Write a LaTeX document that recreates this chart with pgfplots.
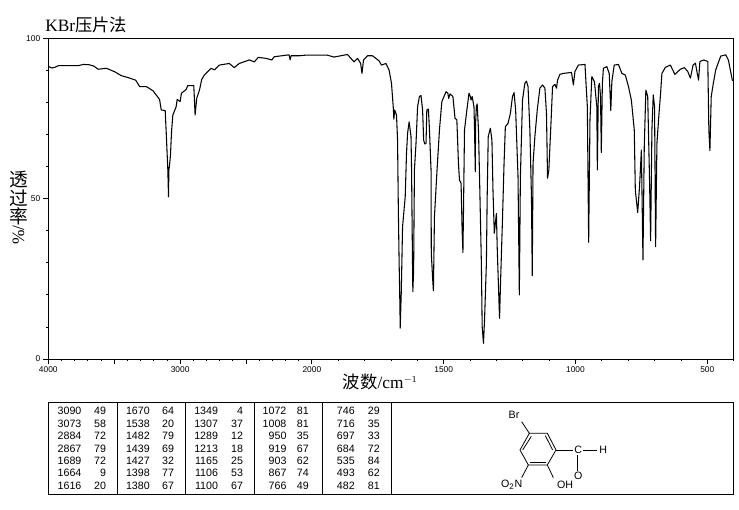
\documentclass[border=0pt]{standalone}
\usepackage{pgfplots}
\pgfplotsset{compat=1.18}
\usepackage{fontspec}
\setmainfont{Liberation Sans}
\newfontfamily\cjk{Noto Sans CJK SC}
\newfontfamily\lser{Liberation Serif}
\newcommand{\fs}[1]{\fontsize{#1}{#1}\selectfont}
\begin{document}
\begin{tikzpicture}[x=0.75pt,y=-0.75pt]
\useasboundingbox (0,0) rectangle (739,510);
\begin{axis}[
  at={(36.225pt,-269.25pt)},anchor=south west,scale only axis,
  width=514pt,height=240.4pt,
  x coord trafo/.code={\pgfmathparse{#1>=2000 ? (4000-#1)*0.5 : 1000+(2000-#1)}},
  xmin=4000,xmax=400,ymin=0,ymax=100,
  axis line style={line width=0.75pt},
  xtick pos=bottom,ytick pos=left,tick align=outside,
  xtick={4000,3500,3000,2500,2000,1500,1000,500},
  xticklabels={4000,,3000,,2000,1500,1000,500},
  minor xtick={3900,3800,3700,3600,3400,3300,3200,3100,2900,2800,2700,2600,2400,2300,2200,2100,1900,1800,1700,1600,1400,1300,1200,1100,900,800,700,600,400},
  ytick={0,50,100},yticklabels={0,50,100},
  minor ytick={10,20,30,40,60,70,80,90},
  major tick length=3.75pt,minor tick length=1.5pt,
  every tick/.style={black,line width=0.6pt},
  xticklabel style={font=\fs{6.3},yshift=1.2pt},yticklabel style={font=\fs{6.3},xshift=1.2pt},
  clip=false,
]
\addplot[black,line width=0.8pt,line join=round] coordinates {
(3995,91.2)(3975,90.8)(3950,91.0)(3924,91.5)(3773,91.5)(3735,91.9)(3690,91.8)(3655,91.4)(3622,90.4)(3559,90.7)
(3496,89.6)(3446,88.4)(3395,87.8)(3337,87.0)(3307,85.0)(3257,85.0)(3206,83.7)(3156,81.0)(3143,77.7)(3113,77.5)
(3105,70.4)(3093,59.0)(3088,50.6)(3085,59.0)(3080,60.5)(3073,63.6)(3065,70.9)(3055,76.1)(3030,78.7)(3022,81.0)
(3000,80.3)(2990,82.9)(2954,84.1)(2942,85.3)(2896,85.3)(2886,76.1)(2874,81.3)(2853,83.9)(2836,87.2)(2816,88.6)
(2765,90.7)(2740,90.2)(2702,91.7)(2627,92.2)(2589,90.9)(2551,92.2)(2475,93.3)(2437,92.7)(2407,94.1)(2349,93.8)
(2304,93.3)(2286,94.3)(2173,94.9)(2165,93.3)(2158,94.6)(2097,94.6)(2047,94.8)(2000,94.8)(1942,94.8)(1916,94.2)
(1865,95.0)(1840,92.7)(1827,93.8)(1815,92.2)(1810,89.1)(1804,93.3)(1789,94.6)(1770,94.6)(1745,93.0)(1736,91.7)
(1719,92.2)(1707,90.1)(1698,86.0)(1691,78.2)(1689,74.8)(1686,77.7)(1679,76.1)(1675,68.3)(1672,46.5)(1669,29.8)
(1666,16.3)(1665,9.6)(1661,20.5)(1656,41.3)(1646,50.6)(1641,64.2)(1637,70.4)(1631,74.0)(1624,69.4)(1622,60.0)
(1618,27.8)(1617,21.0)(1614,27.8)(1611,59.0)(1605,67.3)(1599,78.7)(1592,81.9)(1586,82.2)(1580,77.7)(1576,68.3)
(1572,67.1)(1567,67.3)(1564,77.7)(1558,78.0)(1554,71.5)(1548,59.0)(1547,33.0)(1542,25.2)(1539,21.3)(1535,44.4)
(1526,57.9)(1516,71.5)(1507,80.3)(1491,83.4)(1484,82.9)(1481,81.3)(1476,82.7)(1465,81.9)(1457,75.1)(1450,74.6)
(1444,61.0)(1440,55.8)(1434,54.8)(1430,40.2)(1427,33.2)(1425,45.4)(1421,71.5)(1412,77.7)(1404,82.9)(1399,81.9)
(1396,80.8)(1392,81.9)(1385,78.7)(1383,71.5)(1380,58.4)(1379,73.5)(1376,78.7)(1373,79.6)(1368,71.5)(1364,56.9)
(1357,29.8)(1354,10.1)(1349,4.9)(1345,12.2)(1338,29.8)(1335,50.6)(1331,69.4)(1323,72.0)(1317,68.3)(1313,52.7)
(1308,39.2)(1304,42.3)(1300,45.4)(1297,35.0)(1290,17.4)(1288,12.7)(1284,24.7)(1277,43.4)(1271,61.0)(1266,72.5)
(1256,73.5)(1247,76.6)(1239,81.9)(1233,83.1)(1227,77.7)(1218,56.9)(1213,20.0)(1209,56.9)(1201,80.8)(1192,86.0)
(1186,86.7)(1180,85.0)(1173,71.5)(1167,50.6)(1164,26.0)(1161,61.0)(1154,69.4)(1145,77.7)(1135,84.5)(1125,85.5)
(1116,84.5)(1110,76.6)(1106,56.4)(1101,59.0)(1093,73.5)(1087,85.0)(1078,85.7)(1072,84.5)(1068,87.0)(1059,88.8)
(1046,89.1)(1015,89.4)(1008,85.5)(1002,89.7)(989,91.7)(964,91.9)(955,78.7)(950,36.4)(945,74.6)(938,88.1)
(928,86.5)(919,78.7)(917,59.0)(913,85.0)(909,86.0)(905,81.9)(902,64.4)(898,86.0)(894,90.7)(881,91.2)
(872,89.1)(866,77.5)(862,86.5)(853,91.7)(837,91.9)(824,89.1)(811,88.6)(799,85.0)(788,80.8)(777,71.5)
(773,52.7)(764,45.7)(757,53.8)(750,65.2)(744,30.9)(739,66.3)(733,83.9)(726,81.9)(719,55.8)(715,36.9)
(710,71.5)(705,82.4)(700,78.7)(696,35.0)(691,67.3)(684,75.6)(678,81.9)(672,89.1)(659,91.0)(640,91.7)
(623,88.8)(602,90.4)(587,90.9)(574,89.7)(564,87.6)(554,91.7)(545,92.3)(538,89.1)(533,87.0)(528,92.8)
(513,93.3)(498,92.8)(494,71.5)(490,65.0)(485,81.9)(477,86.0)(468,90.2)(449,94.5)(430,94.9)(420,93.3)
(405,87.0)(400,86.8)
};
\end{axis}
% titles and axis names
\node[anchor=base west,inner sep=0pt] at (45,32) {\fs{13}\lser KBr\cjk 压片法};
\node[anchor=center,inner sep=0pt] at (380,382) {\fs{13}\cjk 波数\lser /cm\textsuperscript{\fs{7}$-$1}};
\node[inner sep=0pt] at (18.5,180) {\fs{14}\cjk 透};
\node[inner sep=0pt] at (18.5,198) {\fs{14}\cjk 过};
\node[inner sep=0pt] at (18.5,216.5) {\fs{14}\cjk 率};
\node[inner sep=0pt,rotate=90] at (18.5,235) {\fs{13}\lser\%/};
% peak table
\draw[line width=0.75pt] (48,402.3) rectangle (733.3,494);
\foreach \x in {117.3,185.7,254.3,322.7,391.3} \draw[line width=0.75pt] (\x,402.3)--(\x,494);
\foreach \r/\a/\b/\c/\d/\e/\f/\g/\h/\i/\j in {
0/3090/49/1670/64/1349/4/1072/81/746/29,
1/3073/58/1538/20/1307/37/1008/81/716/35,
2/2884/72/1482/79/1289/12/950/35/697/33,
3/2867/79/1439/69/1213/18/919/67/684/72,
4/1689/72/1427/32/1165/25/903/62/535/84,
5/1664/9/1398/77/1106/53/867/74/493/62,
6/1616/20/1380/67/1100/67/766/49/482/81}{
  \pgfmathsetmacro{\yy}{411+12.45*\r}
  \node[anchor=east,inner sep=0pt] at (81.7,\yy) {\fs{8}\a};
  \node[anchor=east,inner sep=0pt] at (106.3,\yy) {\fs{8}\b};
  \node[anchor=east,inner sep=0pt] at (150,\yy) {\fs{8}\c};
  \node[anchor=east,inner sep=0pt] at (174.3,\yy) {\fs{8}\d};
  \node[anchor=east,inner sep=0pt] at (218.3,\yy) {\fs{8}\e};
  \node[anchor=east,inner sep=0pt] at (243.3,\yy) {\fs{8}\f};
  \node[anchor=east,inner sep=0pt] at (286.7,\yy) {\fs{8}\g};
  \node[anchor=east,inner sep=0pt] at (309,\yy) {\fs{8}\h};
  \node[anchor=east,inner sep=0pt] at (355,\yy) {\fs{8}\i};
  \node[anchor=east,inner sep=0pt] at (380,\yy) {\fs{8}\j};
}
% structure
\begin{scope}[x=0.25pt,y=-0.25pt,shift={(1170,1185)},line width=0.6pt]
\draw (418,115)--(472,115)--(498,165)--(472,210)--(415,210)--(390,165)--cycle;
\draw (424,124)--(398,165);
\draw (466,122)--(488,165);
\draw (420,203)--(468,203);
\draw (418,115)--(395,80);
\draw (498,165)--(550,165);
\draw (578,165)--(622,165);
\draw (472,210)--(490,248);
\draw (415,210)--(395,248);
\draw[line width=1pt] (562,180)--(562,228);
\node[inner sep=0pt] at (372,60) {\fs{8}Br};
\node[inner sep=0pt] at (565,165) {\fs{8}C};
\node[inner sep=0pt] at (640,165) {\fs{8}H};
\node[inner sep=0pt] at (565,242) {\fs{8}O};
\node[inner sep=0pt] at (525,268) {\fs{8}OH};
\node[inner sep=0pt] at (365,270) {\fs{8}O\textsubscript{\fs{6}2}N};
\end{scope}
\end{tikzpicture}
\end{document}
